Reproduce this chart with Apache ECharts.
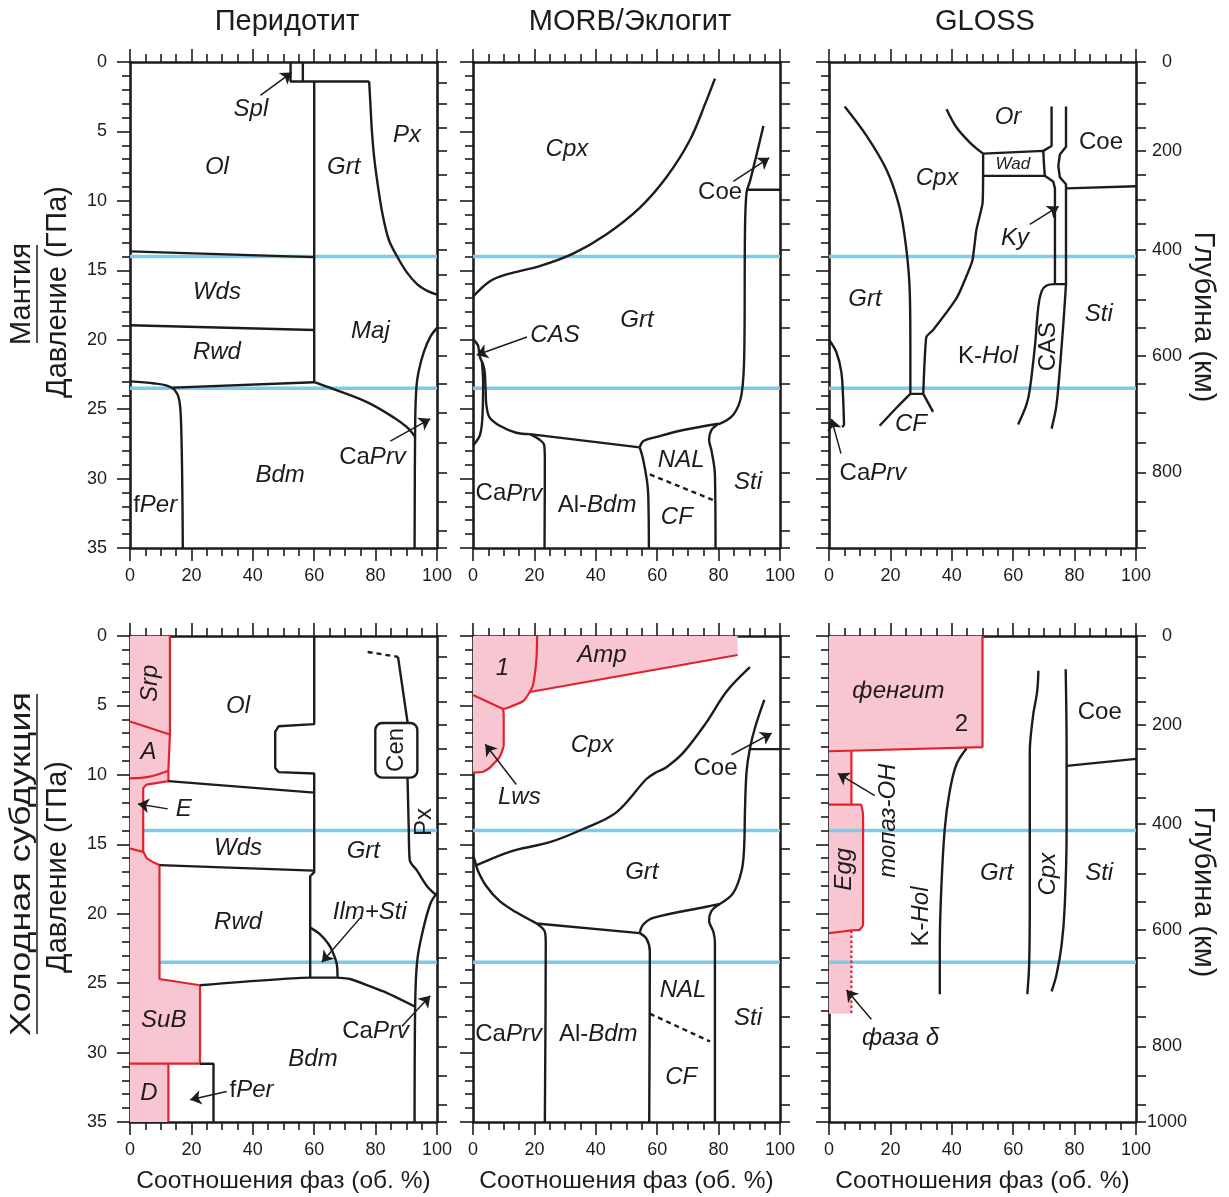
<!DOCTYPE html>
<html><head><meta charset="utf-8">
<script src="https://cdn.jsdelivr.net/npm/echarts@6/dist/echarts.min.js"></script>
<style>html,body{margin:0;padding:0;background:#fff}#c{width:1229px;height:1197px}</style>
</head><body><div id="c"></div>
<script>
// ================= DATA =================
// depth (km) <-> pressure (GPa) correspondence for the right axis
const depthKm  = [0,50,100,150,200,250,300,350,400,450,500,550,600,650,700,750,800,850,900,1000];
const depthGPa = [0,1.5,3.0,4.75,6.38,8.14,9.9,11.64,13.54,15.34,17.14,19.16,21.14,23.15,25.25,27.4,29.55,31.7,33.75,35];
const depthLabelsTop = [0,200,400,600,800];
const depthLabelsBottom = [0,200,400,600,800,1000];
const blueLevels = [14, 23.5];
const blueStartX = [[0,0],[0,0],[0,0],[4.3,9.6],[0,0],[0,0]];

// ---- Panel 0: Mantle / Peridotite ----
const p0_spl1 = [[52.3,0],[52.3,1.4],[77.9,1.4]];
const p0_spl2 = [[56.3,0],[56.3,1.4]];
const p0_olGrt = [[60,1.4],[60,23.06]];
const p0_px = [[77.9,1.4],[78.3,3],[78.8,5],[79.6,7],[80.8,9],[82.3,11],[84.3,12.8],[87,14],[90,15.1],[93.5,16],[97,16.5],[100,16.75]];
const p0_olWds = [[0,13.64],[60,14.05]];
const p0_wdsRwd = [[0,18.96],[60,19.3]];
const p0_rwdBdm = [[14,23.45],[60,23.06]];
const p0_fPer = [[0,23.0],[8,23.15],[12,23.3],[14.5,23.6],[16,24.3],[16.6,25.8],[17,30],[17.2,35]];
const p0_majBdm = [[60,23.06],[66.3,23.56],[77.2,24.5],[85.9,25.6],[90.2,26.3],[92.9,27.0]];
const p0_caPrv = [[100,19.15],[97.8,19.8],[95.7,20.9],[94,22.3],[93.3,23.4],[92.9,25.9],[92.7,35]];
const p0_arrows = [[[42.5,2.4],[52.7,0.75]], [[84.8,27.3],[97.8,25.7]]];
const p0_labels = [[39.4,3.4,'{i|Spl}'],[28.3,7.6,'{i|Ol}'],[69.6,7.6,'{i|Grt}'],[90.2,5.3,'{i|Px}'],[28.3,16.6,'{i|Wds}'],[28.3,20.9,'{i|Rwd}'],[78.3,19.4,'{i|Maj}'],[48.9,29.8,'{i|Bdm}'],[8.2,31.9,'{u|f}{i|Per}'],[79,28.5,'{u|Ca}{i|Prv}']];

// ---- Panel 1: Mantle / MORB ----
const p1_cpxGrt = [[0,16.9],[5.4,15.8],[10.9,15.3],[21.7,14.7],[32.6,13.8],[43.5,12.4],[54.3,10.5],[63,8.3],[70.7,5.6],[76,2.8],[78.8,1.2]];
const p1_coeSti = [[94.6,4.6],[92,7],[90.2,8.6],[89.1,9.4],[88.6,12.1],[88.4,20.4],[87.5,23.9],[84.8,25.4],[79.9,26.1]];
const p1_coeH = [[89.1,9.2],[100,9.2]];
const p1_casOuter = [[0,19.95],[1.6,20.4],[2.2,21.2],[3.3,21.8],[3.8,22.3],[4.1,23.6],[4.35,24.7],[5.4,25.6],[8.7,26.2],[14.1,26.7],[18.5,26.8]];
const p1_grtBase = [[18.5,26.8],[54.3,27.75]];
const p1_casInner = [[2.9,21.6],[3.3,23.1],[3,25.8],[2.2,26.9],[0.5,27.5],[0,27.6]];
const p1_caPrvAl = [[18.5,26.8],[21.7,27.2],[23.2,27.6],[23.4,28.6],[23.3,35]];
const p1_alNal = [[54.3,27.75],[55.4,28.6],[56.7,30.2],[57.1,31.3],[57.3,35]];
const p1_nalTop = [[54.3,27.75],[55.5,27.3],[59.8,27.0],[68.5,26.5],[79.9,26.05]];
const p1_nalSti = [[79.9,26.05],[77.7,26.5],[76.9,27.2],[77.7,28],[78.8,29.7],[79,35]];
const p1_nalCf = [[57.6,29.7],[78.8,31.6]];
const p1_arrows = [[[17.6,19.8],[1.2,21.1]], [[84.8,8.6],[96.5,6.9]]];
const p1_labels = [[30.6,6.3,'{i|Cpx}'],[80.5,9.4,'{u|Coe}'],[53.4,18.6,'{i|Grt}'],[26.7,19.7,'{i|CAS}'],[67.8,28.7,'{i|NAL}'],[89.6,30.3,'{i|Sti}'],[11.7,31.1,'{u|Ca}{i|Prv}'],[40.4,31.9,'{u|Al-}{i|Bdm}'],[66.4,32.8,'{i|CF}']];

// ---- Panel 2: Mantle / GLOSS ----
const p2_grtCpx = [[5.1,3.2],[12.2,5.3],[18.7,7.75],[23,10.5],[25.2,13.5],[26.3,16.5],[26.5,20.4],[26.5,23.9]];
const p2_cpxKhol = [[50.2,8.2],[50,10.2],[48,12.1],[46.7,14.3],[43.5,16.1],[41.3,17.1],[33.9,19.3],[31.7,19.8],[30.7,23.9]];
const p2_cfTop = [[26.5,23.9],[30.7,23.9]];
const p2_cfL = [[26.5,23.9],[22,24.9],[16.5,26.2]];
const p2_cfR = [[30.7,23.9],[33.9,25.2]];
const p2_or = [[38.3,3.4],[41.5,4.7],[45.9,5.8],[50.2,6.6]];
const p2_wad = [[50.2,6.6],[69.8,6.4],[70,7.3],[70.3,8.2],[50.2,8.2],[50.2,6.6]];
const p2_kyL1 = [[72.5,3.2],[72.5,6.05],[69.8,6.4]];
const p2_kyL2 = [[70.3,8.2],[73,8.6],[73.6,9.1],[73.6,16]];
const p2_kyR = [[77.2,3.2],[77.2,6.1],[75.2,6.66],[74.7,7.5],[75.2,8.3],[77.2,8.8],[77.2,16]];
const p2_casR = [[77.2,16],[76.6,18],[75.8,20.4],[74.1,24.7],[72.5,26.4]];
const p2_casTop = [[73.6,16],[77.2,16]];
const p2_casL = [[73.6,16],[70.9,16.1],[69.3,16.5],[68.2,17.6],[67.1,20.4],[65.4,23.6],[64.3,24.7],[61.6,26.1]];
const p2_coeSti = [[77.2,9.1],[100,8.95]];
const p2_caPrv = [[0,20],[2.4,20.9],[4,22.3],[4.6,24.2],[4.9,26.2]];
const p2_caPrvHook = [[4.9,26.2],[4.2,26.25]];
const p2_arrows = [[[65.4,11.7],[74.8,10.4]], [[3.9,28.2],[0.8,25.7]]];
const p2_labels = [[58.3,4.0,'{i|Or}'],[88.6,5.8,'{u|Coe}'],[59.9,7.35,'{s|Wad}'],[35.2,8.4,'{i|Cpx}'],[60.6,12.7,'{i|Ky}'],[11.7,17.1,'{i|Grt}'],[87.9,18.2,'{i|Sti}'],[51.8,21.2,'{u|K-}{i|Hol}'],[71.3,20.5,'{u|CAS}',90],[26.7,26.1,'{i|CF}'],[14.3,29.6,'{u|Ca}{i|Prv}']];

// ---- Panel 3: Cold subduction / Peridotite ----
const p3_pink = [[0,0],[13,0],[13,7.09],[12.5,9.7],[12.5,10.45],[5.4,10.7],[4.3,10.95],[4.3,15.5],[5.4,16.0],[7.6,16.3],[9.6,16.5],[9.6,24.7],[22.8,25.15],[22.8,30.8],[12.5,30.8],[12.5,35],[0,35]];
const p3_redOuter = [[13,0],[13,7.09],[12.5,9.7],[12.5,10.45],[5.4,10.7],[4.3,10.95],[4.3,15.5],[5.4,16.0],[7.6,16.3],[9.6,16.5],[9.6,24.7],[22.8,25.15],[22.8,30.8]];
const p3_redSrpA = [[0,6.16],[13,7.09]];
const p3_redAE = [[0,10.26],[6,10.15],[12.5,9.7]];
const p3_redESub = [[0,15.3],[4.3,15.55]];
const p3_redSubD = [[0,30.8],[22.8,30.8]];
const p3_redD = [[12.5,30.8],[12.5,35]];
const p3_olWds = [[12.5,10.45],[60,11.28]];
const p3_wdsRwd = [[9.6,16.5],[59.8,16.9]];
const p3_grt = [[60,0],[60,6.35],[48.4,6.5],[47.3,6.9],[47.3,9.5],[48.4,9.8],[60,9.9],[60,17.0],[58.7,17.3],[58.7,24.6]];
const p3_bdmTop = [[22.8,25.15],[58.7,24.6],[67.4,24.6],[71.7,24.7],[82.6,25.6],[92.9,26.7]];
const p3_ilmSti = [[58.7,21.0],[62,21.5],[64.7,22.2],[66.3,22.9],[67.4,23.7],[67.6,24.6]];
const p3_fPer = [[22.8,30.8],[27.2,30.8],[27.2,35]];
const p3_pxDash = [[77.4,1.15],[87.3,1.5]];
const p3_pxTop = [[87.3,1.5],[90.4,6.2]];
const p3_cen = [[79.9,6.27],[93.6,10.2]];
const p3_pxBottom = [[90.4,10.2],[90.8,13.9],[91.1,16.1],[93.5,16.9],[96.7,18],[98.9,18.5],[100,18.7]];
const p3_caPrv = [[100,18.5],[97.8,19.3],[95.1,21.5],[93.5,23.5],[92.9,26.5],[92.7,35]];
const p3_arrows = [[[12.3,12.45],[2.6,12.1]], [[75,20.3],[62.5,23.5]], [[88.6,28.1],[97.8,25.9]], [[31.5,32.8],[19.6,33.4]]];
const p3_labels = [[6.6,3.4,'{i|Srp}',90],[6,8.4,'{i|A}'],[17.5,12.5,'{i|E}'],[35.2,5.1,'{i|Ol}'],[35.2,15.3,'{i|Wds}'],[35.2,20.6,'{i|Rwd}'],[76,15.5,'{i|Grt}'],[86.8,8.2,'{u|Cen}',90],[95.8,13.4,'{u|Px}',90],[78.1,19.9,'{i|Ilm+Sti}'],[11,27.7,'{i|SuB}'],[6.2,32.9,'{i|D}'],[39.6,32.7,'{u|f}{i|Per}'],[59.6,30.5,'{i|Bdm}'],[80,28.5,'{u|Ca}{i|Prv}']];

// ---- Panel 4: Cold subduction / MORB ----
const p4_pink = [[0,0],[86.2,0],[86.2,1.37],[18.5,4.03],[16.3,4.7],[10.9,5.2],[9.8,5.26],[10,5.67],[10,7.86],[8.7,8.7],[5.4,9.5],[3.3,9.78],[0,9.84]];
const p4_redAmp = [[18.5,4.03],[86.2,1.37]];
const p4_red1 = [[20.9,0],[20.7,1.56],[19.6,3.5],[18.5,4.03],[16.3,4.7],[10.9,5.2],[9.8,5.26]];
const p4_red1Lws = [[0,4.25],[9.8,5.26]];
const p4_redLws = [[9.8,5.26],[10,5.67],[10,7.86],[8.7,8.7],[5.4,9.5],[3.3,9.78],[0,9.84]];
const p4_cpxGrt = [[1.2,16.5],[7.6,15.9],[14.1,15.4],[25,14.85],[35.9,13.9],[46.7,12.7],[56.5,10.3],[59.8,9.8],[63,9.45],[68.5,8.4],[76.1,6.2],[82.6,4.0],[90.2,2.25]];
const p4_grtLow = [[0,15.8],[0.5,16.1],[1.6,16.9],[4.3,18],[8.7,19.1],[14.1,19.9],[20.7,20.7]];
const p4_grtBase = [[20.7,20.7],[54.3,21.4]];
const p4_caPrvAl = [[20.7,20.7],[23.4,21.3],[23.7,22.1],[23.4,35]];
const p4_alNal = [[54.3,21.4],[56.5,21.8],[57.6,22.7],[57.4,35]];
const p4_nalTop = [[54.3,21.4],[55.4,20.8],[58.7,20.3],[76,19.5],[80.4,19.3]];
const p4_nalSti = [[80.4,19.3],[77.7,19.8],[76.9,20.5],[78.3,21.3],[78.8,22.1],[78.8,35]];
const p4_coeSti = [[94.9,4.6],[92,6.5],[90.2,8.1],[89.1,9.8],[88.6,12.5],[88.3,15.3],[87.5,16.9],[84.8,18.5],[80.4,19.3]];
const p4_coeH = [[90.2,8.15],[100,8.15]];
const p4_nalCf = [[57.6,27.2],[77.2,29.2]];
const p4_arrows = [[[84.2,8.55],[97.3,7]], [[14.1,10.7],[4,7.8]]];
const p4_labels = [[9.6,2.35,'{i|1}'],[42,1.42,'{i|Amp}'],[38.8,7.86,'{i|Cpx}'],[15.1,11.65,'{i|Lws}'],[79,9.5,'{u|Coe}'],[55,17,'{i|Grt}'],[68.4,25.5,'{i|NAL}'],[89.6,27.5,'{i|Sti}'],[11.6,28.7,'{u|Ca}{i|Prv}'],[40.8,28.7,'{u|Al-}{i|Bdm}'],[67.8,31.75,'{i|CF}']];

// ---- Panel 5: Cold subduction / GLOSS ----
const p5_fengit = [[0,0],[50,0],[50,8.0],[0,8.3]];
const p5_topaz = [[0,8.3],[7.3,8.3],[7.3,12.15],[0,12.15]];
const p5_egg = [[0,12.15],[10.3,12.15],[11.1,13],[11.1,20.8],[10,21.15],[7.3,21.2],[0,21.4]];
const p5_delta = [[0,21.4],[7.3,21.2],[7.3,27.2],[0,27.2]];
const p5_redFengit = [[50,0],[50,8.0],[0,8.3]];
const p5_redTopaz = [[7.3,8.3],[7.3,12.15]];
const p5_redEgg = [[0,12.15],[10.3,12.15],[11.1,13],[11.1,20.8],[10,21.15],[7.3,21.2],[0,21.4]];
const p5_redDelta = [[7.3,21.2],[7.3,27.2]];
const p5_kholGrt = [[44.8,8.1],[41.5,9.25],[39.3,11.2],[37.7,13.9],[36.6,18.1],[36.1,22.2],[36.1,25.8]];
const p5_grtCpx = [[68.2,2.5],[67.8,4.0],[66.5,5.7],[65.4,8.4],[65.4,13.9],[65.4,19.4],[65.2,23.6],[64.6,25.8]];
const p5_cpxSti = [[77.1,2.4],[77.4,8.4],[77.4,13.9],[76.8,19.4],[75.8,22.2],[74.1,24.4],[72.5,25.6]];
const p5_coeSti = [[77.4,9.35],[100,8.85]];
const p5_arrows = [[[14.9,11.5],[2.9,9.9]], [[13.8,27.6],[5.7,25.5]]];
const p5_labels = [[22.6,3.95,'{i|фенгит}'],[43.1,6.35,'{u|2}'],[88.2,5.5,'{u|Coe}'],[19.2,13.3,'{i|топаз-OH}',90],[5,16.8,'{i|Egg}',90],[30.2,20.2,'{u|K-}{i|Hol}',90],[54.6,17.1,'{i|Grt}'],[71.6,17.15,'{i|Cpx}',90],[88,17.1,'{i|Sti}'],[23.3,28.95,'{i|фаза δ}']];

// ================= STYLE / LAYOUT =================
const INK = '#1e1b1c', PINK = '#f8c6d1', RED = '#e3232c', BLUE = '#7ccaec';
const FONT = '"Liberation Sans", Arial, Helvetica, sans-serif';
const PANELS = [
  {left:130, top:62}, {left:473, top:62}, {left:829, top:62},
  {left:130, top:636}, {left:473, top:636}, {left:829, top:636}
];
const PW = 307, PH = 486;
const LW = 2.4;

const LINES = [
  [0,p0_spl1,'k'],[0,p0_spl2,'k'],[0,p0_olGrt,'k'],[0,p0_px,'ks'],[0,p0_olWds,'k'],[0,p0_wdsRwd,'k'],
  [0,p0_rwdBdm,'k'],[0,p0_fPer,'ks'],[0,p0_majBdm,'ks'],[0,p0_caPrv,'ks'],
  [1,p1_cpxGrt,'ks'],[1,p1_coeSti,'ks'],[1,p1_coeH,'k'],[1,p1_casOuter,'ks'],[1,p1_grtBase,'k'],[1,p1_casInner,'ks'],
  [1,p1_caPrvAl,'ks'],[1,p1_alNal,'ks'],[1,p1_nalTop,'ks'],[1,p1_nalSti,'ks'],[1,p1_nalCf,'kd'],
  [2,p2_grtCpx,'ks'],[2,p2_cpxKhol,'kt'],[2,p2_cfTop,'k'],[2,p2_cfL,'ks'],[2,p2_cfR,'k'],[2,p2_or,'ks'],
  [2,p2_wad,'k'],[2,p2_kyL1,'k'],[2,p2_kyL2,'k'],[2,p2_kyR,'k'],[2,p2_casR,'ks'],[2,p2_casTop,'k'],
  [2,p2_casL,'ks'],[2,p2_coeSti,'k'],[2,p2_caPrv,'ks'],[2,p2_caPrvHook,'k'],
  [3,p3_redOuter,'r'],[3,p3_redSrpA,'r'],[3,p3_redAE,'rs'],[3,p3_redESub,'r'],[3,p3_redSubD,'r'],[3,p3_redD,'r'],
  [3,p3_olWds,'k'],[3,p3_wdsRwd,'k'],[3,p3_grt,'k'],[3,p3_bdmTop,'kt'],[3,p3_ilmSti,'ks'],[3,p3_fPer,'k'],
  [3,p3_pxDash,'kd'],[3,p3_pxTop,'k'],[3,p3_pxBottom,'ks'],[3,p3_caPrv,'ks'],
  [4,p4_redAmp,'r'],[4,p4_red1,'rt'],[4,p4_red1Lws,'r'],[4,p4_redLws,'rt'],
  [4,p4_cpxGrt,'ks'],[4,p4_grtLow,'ks'],[4,p4_grtBase,'k'],[4,p4_caPrvAl,'ks'],[4,p4_alNal,'ks'],[4,p4_nalTop,'ks'],
  [4,p4_nalSti,'ks'],[4,p4_coeSti,'ks'],[4,p4_coeH,'k'],[4,p4_nalCf,'kd'],
  [5,p5_redFengit,'r'],[5,p5_redTopaz,'r'],[5,p5_redEgg,'rt'],[5,p5_redDelta,'rd'],
  [5,p5_kholGrt,'ks'],[5,p5_grtCpx,'ks'],[5,p5_cpxSti,'ks'],[5,p5_coeSti,'k']
];
const POLYS = [[3,p3_pink],[4,p4_pink],[5,p5_fengit],[5,p5_topaz],[5,p5_egg],[5,p5_delta]];
const ARROWS = [p0_arrows,p1_arrows,p2_arrows,p3_arrows,p4_arrows,p5_arrows];
const LABELS = [p0_labels,p1_labels,p2_labels,p3_labels,p4_labels,p5_labels];

// ================= BUILD =================
const grid = [], xAxis = [], yAxis = [], series = [];
const axisLineStyle = {color: INK, width: 2.6};
const tickStyle = {color: INK, width: 1.6};
const tickFont = {fontSize: 18, color: INK, fontFamily: FONT};

PANELS.forEach((P, p) => {
  const row = p < 3 ? 0 : 1, col = p % 3;
  grid.push({left: P.left, top: P.top, width: PW, height: PH, containLabel: false});
  const baseX = {gridIndex: p, type: 'value', min: 0, max: 100, interval: 20,
    axisLine: {show: true, onZero: false, lineStyle: axisLineStyle},
    axisTick: {show: true, length: 13, lineStyle: tickStyle},
    minorTick: {show: true, splitNumber: 4, length: 8, lineStyle: tickStyle},
    splitLine: {show: false}, minorSplitLine: {show: false}};
  xAxis.push(Object.assign({}, baseX, {position: 'bottom',
    axisLabel: Object.assign({show: true, margin: 19}, tickFont),
    name: row === 1 ? 'Соотношения фаз (об. %)' : '', nameLocation: 'middle', nameGap: 47,
    nameTextStyle: {fontSize: 24.5, color: INK, fontFamily: FONT}}));
  xAxis.push(Object.assign({}, baseX, {position: 'top', axisLabel: {show: false}}));
  yAxis.push({gridIndex: p, type: 'value', min: 0, max: 35, interval: 5, inverse: true, position: 'left',
    axisLine: {show: true, onZero: false, lineStyle: axisLineStyle},
    axisTick: {show: true, length: 13, lineStyle: tickStyle},
    minorTick: {show: true, splitNumber: 5, length: 8, lineStyle: tickStyle},
    splitLine: {show: false}, minorSplitLine: {show: false},
    axisLabel: Object.assign({show: col === 0, margin: 23}, tickFont)});
  const labs = row === 0 ? depthLabelsTop : depthLabelsBottom;
  yAxis.push({gridIndex: p, type: 'value', min: 0, max: 35, inverse: true, position: 'right',
    axisLine: {show: true, onZero: false, lineStyle: axisLineStyle},
    axisTick: {show: true, length: 10, lineStyle: tickStyle, customValues: depthGPa.slice()},
    splitLine: {show: false},
    axisLabel: Object.assign({show: col === 2, margin: 31, align: 'center',
      customValues: labs.map(k => depthGPa[depthKm.indexOf(k)]),
      formatter: v => { const i = depthGPa.findIndex(g => Math.abs(g - v) < 1e-6); return i >= 0 ? String(depthKm[i]) : ''; }
    }, tickFont)});

  // blue reference lines
  blueLevels.forEach((lv, j) => {
    series.push({type: 'line', xAxisIndex: 2*p, yAxisIndex: 2*p, data: [[blueStartX[p][j], lv], [100, lv]],
      symbol: 'none', silent: true, z: 2, lineStyle: {color: BLUE, width: 3.5}});
  });
});

POLYS.forEach(([p, pts]) => {
  series.push({type: 'custom', xAxisIndex: 2*p, yAxisIndex: 2*p, silent: true, z: 1, clip: true,
    data: pts, encode: {x: 0, y: 1},
    renderItem: (params, api) => params.dataIndex === 0 ? {type: 'polygon',
      shape: {points: pts.map(q => api.coord(q))}, style: {fill: PINK}} : null});
});

// Cen rounded box
series.push({type: 'custom', xAxisIndex: 6, yAxisIndex: 6, silent: true, z: 3, clip: true,
  data: p3_cen, encode: {x: 0, y: 1},
  renderItem: (params, api) => {
    if (params.dataIndex !== 0) return null;
    const a = api.coord(p3_cen[0]), b = api.coord(p3_cen[1]);
    return {type: 'rect', shape: {x: a[0], y: a[1], width: b[0]-a[0], height: b[1]-a[1], r: 7},
      style: {fill: 'none', stroke: INK, lineWidth: LW}};
  }});

LINES.forEach(([p, data, st]) => {
  const red = st[0] === 'r';
  series.push({type: 'line', xAxisIndex: 2*p, yAxisIndex: 2*p, data: data, symbol: 'none', silent: true,
    smooth: st[1] === 's' ? 0.35 : (st[1] === 't' ? 0.15 : false), z: 3,
    lineStyle: {color: red ? RED : INK, width: red ? 2.2 : LW,
      type: st[1] === 'd' ? (red ? [2.5, 2.5] : [5, 4]) : 'solid'}});
});

ARROWS.forEach((arr, p) => {
  series.push({type: 'line', xAxisIndex: 2*p, yAxisIndex: 2*p, data: [], symbol: 'none', silent: true, z: 4,
    markLine: {silent: true, symbol: ['none', 'arrow'], symbolSize: 11, precision: 4,
      label: {show: false}, lineStyle: {color: INK, width: 1.5, type: 'solid'},
      emphasis: {disabled: true},
      data: arr.map(a => [{coord: a[0]}, {coord: a[1]}])}});
});

const rich = {
  i: {fontStyle: 'italic', fontSize: 24, fontFamily: FONT, fill: INK},
  u: {fontStyle: 'normal', fontSize: 24, fontFamily: FONT, fill: INK},
  s: {fontStyle: 'italic', fontSize: 17, fontFamily: FONT, fill: INK}
};
LABELS.forEach((arr, p) => {
  series.push({type: 'custom', xAxisIndex: 2*p, yAxisIndex: 2*p, silent: true, z: 5, clip: false,
    data: arr.map(l => [l[0], l[1]]), encode: {x: 0, y: 1},
    renderItem: (params, api) => {
      const l = arr[params.dataIndex];
      const c = api.coord([l[0], l[1]]);
      return {type: 'text', x: c[0], y: c[1], rotation: (l[3] || 0) * Math.PI / 180,
        style: {text: l[2], rich: rich, fill: INK, fontSize: 24, fontFamily: FONT,
          align: 'center', verticalAlign: 'middle'}};
    }});
});

// titles and side captions
function txt(x, y, s, size, rot, sx) {
  return {type: 'text', x: x, y: y, rotation: rot || 0, scaleX: sx || 1, silent: true,
    style: {text: s, fontSize: size, fontFamily: FONT, fill: INK,
      textAlign: 'center', textVerticalAlign: 'middle', align: 'center', verticalAlign: 'middle'}};
}
const R90 = Math.PI / 2;
const graphic = [
  txt(287, 22, 'Перидотит', 29), txt(630, 22, 'MORB/Эклогит', 29), txt(985, 22, 'GLOSS', 29),
  txt(22, 294, 'Мантия', 29, R90), txt(58, 292, 'Давление (ГПа)', 29, R90),
  txt(22, 864, 'Холодная субдукция', 29, R90, 1.24), txt(58, 867, 'Давление (ГПа)', 29, R90),
  txt(1203, 317, 'Глубина (км)', 29, -R90), txt(1203, 892, 'Глубина (км)', 29, -R90),
  {type: 'line', silent: true, shape: {x1: 37, y1: 245, x2: 37, y2: 343}, style: {stroke: INK, lineWidth: 1.5}},
  {type: 'line', silent: true, shape: {x1: 37, y1: 694, x2: 37, y2: 1034}, style: {stroke: INK, lineWidth: 1.5}}
];

const chart = echarts.init(document.getElementById('c'), null, {renderer: 'canvas'});
chart.setOption({animation: false, backgroundColor: '#fff', grid, xAxis, yAxis, series, graphic});
</script>
</body></html>
